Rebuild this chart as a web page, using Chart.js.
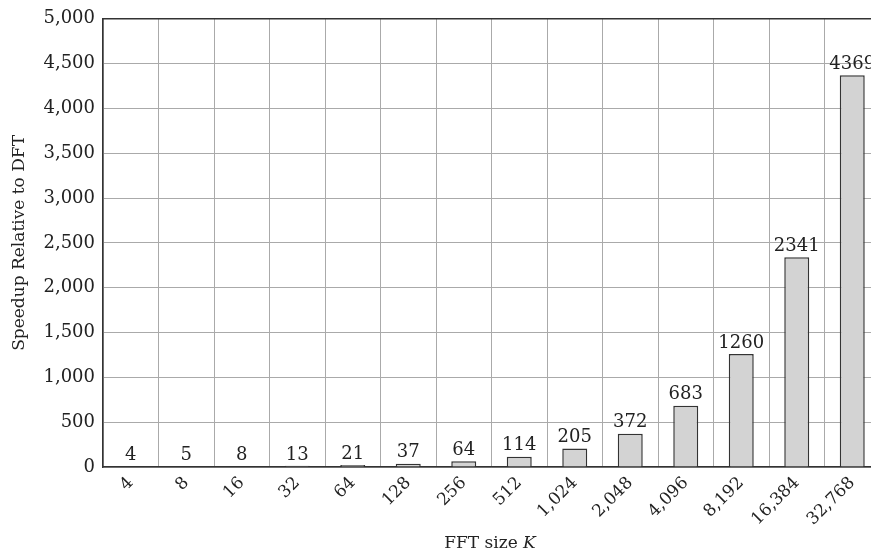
<!DOCTYPE html>
<html lang="en">
<head>
  <meta charset="UTF-8" />
  <title>FFT speedup</title>
  <script src="https://cdn.jsdelivr.net/npm/chart.js"></script>
  <style>
    body { margin: 0; background: #fff; overflow: hidden; }
    canvas { display: block; }
  </style>
</head>
<body>
  <canvas id="chart" width="885" height="555"></canvas>
  <script>
    // FFT sizes and speedup factors
    const sizes = ['4', '8', '16', '32', '64', '128', '256', '512', '1,024', '2,048', '4,096', '8,192', '16,384', '32,768'];
    const speedup = [4, 5, 8, 13, 21, 37, 64, 114, 205, 372, 683, 1260, 2341, 4369];
    const yTicks = [0, 500, 1000, 1500, 2000, 2500, 3000, 3500, 4000, 4500, 5000];

    const serif = "'DejaVu Serif', serif";

    // value labels above bars, top frame line, x title with italic K
    const extras = {
      id: 'extras',
      afterDatasetsDraw(chart) {
        const ctx = chart.ctx;
        const area = chart.chartArea;
        ctx.save();
        ctx.fillStyle = '#222';
        ctx.font = '18px ' + serif;
        ctx.textAlign = 'center';
        ctx.textBaseline = 'bottom';
        chart.getDatasetMeta(0).data.forEach((bar, i) => {
          ctx.fillText(String(speedup[i]), bar.x, bar.y - 2);
        });
        ctx.strokeStyle = '#333';
        ctx.lineWidth = 1.5;
        ctx.beginPath();
        ctx.moveTo(area.left, area.top);
        ctx.lineTo(area.right, area.top);
        ctx.stroke();

        const a = 'FFT size ';
        ctx.font = '17px ' + serif;
        const wa = ctx.measureText(a).width;
        ctx.font = 'italic 17px ' + serif;
        const wb = ctx.measureText('K').width;
        const cx = 490, y = 548;
        const x = cx - (wa + wb) / 2;
        ctx.textAlign = 'left';
        ctx.textBaseline = 'alphabetic';
        ctx.font = '17px ' + serif;
        ctx.fillText(a, x, y);
        ctx.font = 'italic 17px ' + serif;
        ctx.fillText('K', x + wa, y);
        ctx.restore();
      }
    };

    new Chart(document.getElementById('chart'), {
      type: 'bar',
      data: {
        labels: sizes,
        datasets: [{
          data: speedup,
          backgroundColor: '#d3d3d3',
          borderColor: '#333',
          borderWidth: 1.5,
          barPercentage: 0.45,
          categoryPercentage: 1.0
        }]
      },
      options: {
        responsive: false,
        animation: false,
        layout: { padding: { top: 16, right: 5, left: 0, bottom: 0 } },
        plugins: {
          legend: { display: false },
          tooltip: { enabled: false }
        },
        scales: {
          x: {
            grid: { color: '#aaa', lineWidth: 1, drawTicks: false, offset: true },
            border: { color: '#333', width: 1.5 },
            ticks: {
              color: '#222',
              font: { family: serif, size: 17 },
              minRotation: 45,
              maxRotation: 45,
              padding: 6
            },
            afterFit(scale) { scale.height = 88; }
          },
          y: {
            min: 0,
            max: 5000,
            afterBuildTicks(scale) { scale.ticks = yTicks.map(v => ({ value: v })); },
            grid: { color: '#aaa', lineWidth: 1, drawTicks: false },
            border: { color: '#333', width: 1.5 },
            ticks: {
              color: '#222',
              font: { family: serif, size: 18 },
              padding: 8,
              callback: v => v.toLocaleString('en-US')
            },
            title: {
              display: true,
              text: 'Speedup Relative to DFT',
              color: '#222',
              font: { family: serif, size: 17 },
              padding: { top: 9, bottom: 4 }
            },
            afterFit(scale) { scale.width = 103; }
          }
        }
      },
      plugins: [extras]
    });
  </script>
</body>
</html>
